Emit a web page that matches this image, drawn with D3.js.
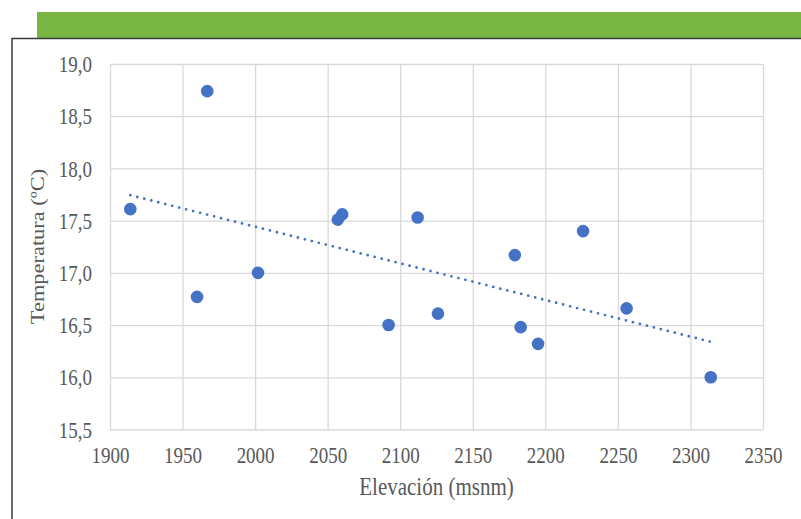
<!DOCTYPE html>
<html>
<head>
<meta charset="utf-8">
<script src="https://cdn.jsdelivr.net/npm/d3@7"></script>
<style>
  body { margin: 0; background: #fff; }
  svg { display: block; }
  text { font-family: "Liberation Serif", "Times New Roman", serif; fill: #595959; }
</style>
</head>
<body>
<div id="chart"></div>
<script>
// elevation (msnm) and mean temperature (ºC) of each site
var elevation = [1914, 1960, 1967, 2002, 2057, 2060, 2092, 2112, 2126, 2179, 2183, 2195, 2226, 2256, 2314];
var temperature = [17.61, 16.77, 18.74, 17.00, 17.51, 17.56, 16.50, 17.53, 16.61, 17.17, 16.48, 16.32, 17.40, 16.66, 16.00];

var xTicks = [1900, 1950, 2000, 2050, 2100, 2150, 2200, 2250, 2300, 2350];
var yTicks = [15.5, 16.0, 16.5, 17.0, 17.5, 18.0, 18.5, 19.0];

var xLabel = "Elevación (msnm)";
var yLabel = "Temperatura (ºC)";

var width = 801, height = 519;
var margin = { top: 64, right: 38, bottom: 89.5, left: 110 };
var w = width - margin.left - margin.right;
var h = height - margin.top - margin.bottom;
var stretch = 1.2; // the glyphs in the source are a bit taller than normal

var svg = d3.select("#chart").append("svg")
  .attr("width", width)
  .attr("height", height);

// green band and frame on top of the chart
svg.append("rect")
  .attr("x", 37).attr("y", 12)
  .attr("width", width - 37).attr("height", 26)
  .attr("fill", "#79b542");

svg.append("path")
  .attr("d", "M12," + height + "V38.5H" + width)
  .attr("fill", "none")
  .attr("stroke", "#3a3a3a")
  .attr("stroke-width", 1.5);

var g = svg.append("g")
  .attr("transform", "translate(" + margin.left + "," + margin.top + ")");

var x = d3.scaleLinear().domain([1900, 2350]).range([0, w]);
var y = d3.scaleLinear().domain([15.5, 19.0]).range([h, 0]);

var fmtY = function (d) { return d3.format(".1f")(d).replace(".", ","); };

// x axis + vertical grid
var xAxis = d3.axisBottom(x).tickValues(xTicks).tickSize(-h).tickPadding(0).tickFormat(d3.format("d"));
g.append("g")
  .attr("class", "x-axis")
  .attr("transform", "translate(0," + h + ")")
  .call(xAxis)
  .call(function (a) { a.select(".domain").remove(); })
  .call(function (a) {
    a.selectAll(".tick line").attr("stroke", "#d9d9d9").attr("stroke-width", 1.3);
    a.selectAll(".tick text")
      .attr("x", null).attr("y", null).attr("dy", null)
      .attr("fill", null)
      .attr("font-size", 19)
      .attr("transform", "translate(0,33) scale(1," + stretch + ")");
  });

// y axis + horizontal grid
var yAxis = d3.axisLeft(y).tickValues(yTicks).tickSize(-w).tickPadding(0).tickFormat(fmtY);
g.append("g")
  .attr("class", "y-axis")
  .call(yAxis)
  .call(function (a) { a.select(".domain").remove(); })
  .call(function (a) {
    a.selectAll(".tick line").attr("stroke", "#d9d9d9").attr("stroke-width", 1.3);
    a.selectAll(".tick text")
      .attr("x", null).attr("y", null).attr("dy", null)
      .attr("fill", null)
      .attr("font-size", 19)
      .attr("text-anchor", "end")
      .attr("transform", "translate(-18,7.7) scale(1," + stretch + ")");
  });

// linear trend line (least squares), dotted like Excel
var mx = d3.mean(elevation), my = d3.mean(temperature);
var sxy = d3.sum(elevation, function (d, i) { return (d - mx) * (temperature[i] - my); });
var sxx = d3.sum(elevation, function (d) { return (d - mx) * (d - mx); });
var slope = sxy / sxx, icpt = my - slope * mx;
var ext = d3.extent(elevation);

g.append("path")
  .datum(ext)
  .attr("d", d3.line()
    .x(function (d) { return x(d); })
    .y(function (d) { return y(icpt + slope * d); }))
  .attr("fill", "none")
  .attr("stroke", "#4472c4")
  .attr("stroke-width", 2.8)
  .attr("stroke-linecap", "round")
  .attr("stroke-dasharray", "0,7.2");

// points
g.selectAll("circle")
  .data(elevation)
  .enter()
  .append("circle")
  .attr("cx", function (d) { return x(d); })
  .attr("cy", function (d, i) { return y(temperature[i]); })
  .attr("r", 6.3)
  .attr("fill", "#4472c4");

// axis titles
svg.append("text")
  .attr("text-anchor", "middle")
  .attr("font-size", 21)
  .attr("transform", "translate(" + (margin.left + w / 2) + ",495) scale(1," + stretch + ")")
  .text(xLabel);

svg.append("text")
  .attr("text-anchor", "middle")
  .attr("font-size", 19.5)
  .attr("transform", "translate(44,246.5) scale(1,1.15) rotate(-90)")
  .text(yLabel);
</script>
</body>
</html>
